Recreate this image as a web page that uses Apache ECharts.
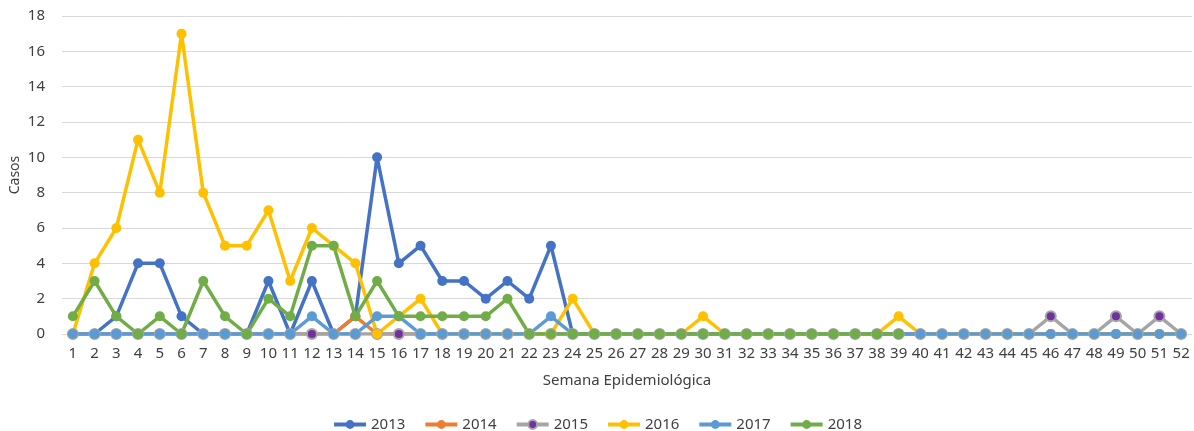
<!DOCTYPE html>
<html>
<head>
<meta charset="utf-8">
<script src="https://cdn.jsdelivr.net/npm/echarts@6/dist/echarts.min.js"></script>
<style>
  html, body { margin: 0; padding: 0; background: #fff; }
  #chart { width: 1194px; height: 431px; }
</style>
</head>
<body>
<div id="chart"></div>
<script>
// semanas epidemiológicas 1..52
const weeks = [];
for (let w = 1; w <= 52; w++) weeks.push(String(w));

const zeros = n => Array(n).fill(0);

const cases2013 = [0, 0, 1, 4, 4, 1, 0, 0, 0, 3, 0, 3, 0, 1, 10, 4, 5, 3, 3, 2, 3, 2, 5, 0].concat(zeros(28));
const cases2014 = [0, 0, 0, 0, 0, 0, 0, 0, 0, 0, 0, 0, 0, 1].concat(zeros(38));
const cases2015 = zeros(45).concat([1, 0, 0, 1, 0, 1, 0]);
const cases2016 = [0, 4, 6, 11, 8, 17, 8, 5, 5, 7, 3, 6, 5, 4, 0, 1, 2, 0, 0, 0,
  0, 0, 0, 2, 0, 0, 0, 0, 0, 1, 0, 0, 0, 0, 0, 0, 0, 0, 1, 0].concat(zeros(12));
const cases2017 = [0, 0, 0, 0, 0, 0, 0, 0, 0, 0, 0, 1, 0, 0, 1, 1, 0, 0, 0, 0,
  0, 0, 1, 0].concat(zeros(28));
const cases2018 = [1, 3, 1, 0, 1, 0, 3, 1, 0, 2, 1, 5, 5, 1, 3, 1, 1, 1, 1, 1,
  2, 0, 0, 0].concat(zeros(15));

const seriesDefs = [
  { name: '2013', data: cases2013, line: '#4472C4', dot: '#4472C4' },
  { name: '2014', data: cases2014, line: '#ED7D31', dot: '#ED7D31' },
  { name: '2015', data: cases2015, line: '#A5A5A5', dot: '#7030A0' },
  { name: '2016', data: cases2016, line: '#FFC000', dot: '#FFC000' },
  { name: '2017', data: cases2017, line: '#5B9BD5', dot: '#5B9BD5' },
  { name: '2018', data: cases2018, line: '#70AD47', dot: '#70AD47' }
];

const font = 'Noto Sans';
let myChart = echarts.init(document.getElementById('chart'));

let option = {
  animation: false,
  textStyle: { fontFamily: font },
  grid: { left: 62, right: 2, top: 16, bottom: 97, outerBoundsMode: 'none' },
  legend: {
    top: 412,
    left: 'center',
    itemWidth: 32,
    itemHeight: 11,
    itemGap: 18,
    lineStyle: { width: 4 },
    textStyle: { fontSize: 15, color: '#404040', fontFamily: font },
    data: seriesDefs.map(s => s.name)
  },
  xAxis: {
    type: 'category',
    data: weeks,
    boundaryGap: true,
    name: 'Semana Epidemiológica',
    nameLocation: 'middle',
    nameGap: 39,
    nameMoveOverlap: false,
    nameTextStyle: { fontSize: 15, color: '#404040' },
    axisLine: { lineStyle: { color: '#D9D9D9' } },
    axisTick: { show: false },
    axisLabel: { interval: 0, fontSize: 15, color: '#404040', margin: 12 }
  },
  yAxis: {
    type: 'value',
    min: 0,
    max: 18,
    interval: 2,
    name: 'Casos',
    nameLocation: 'middle',
    nameGap: 40,
    nameMoveOverlap: false,
    nameTextStyle: { fontSize: 14, color: '#404040' },
    axisLine: { show: false },
    axisTick: { show: false },
    axisLabel: { fontSize: 15, color: '#404040', margin: 17 },
    splitLine: { lineStyle: { color: '#D9D9D9' } }
  },
  series: seriesDefs.map(s => ({
    name: s.name,
    type: 'line',
    data: s.data,
    symbol: 'circle',
    symbolSize: 10,
    lineStyle: { color: s.line, width: 3.5 },
    itemStyle: {
      color: s.dot,
      borderColor: s.line,
      borderWidth: s.dot === s.line ? 0 : 2
    }
  }))
};
myChart.setOption(option);
</script>
</body>
</html>
